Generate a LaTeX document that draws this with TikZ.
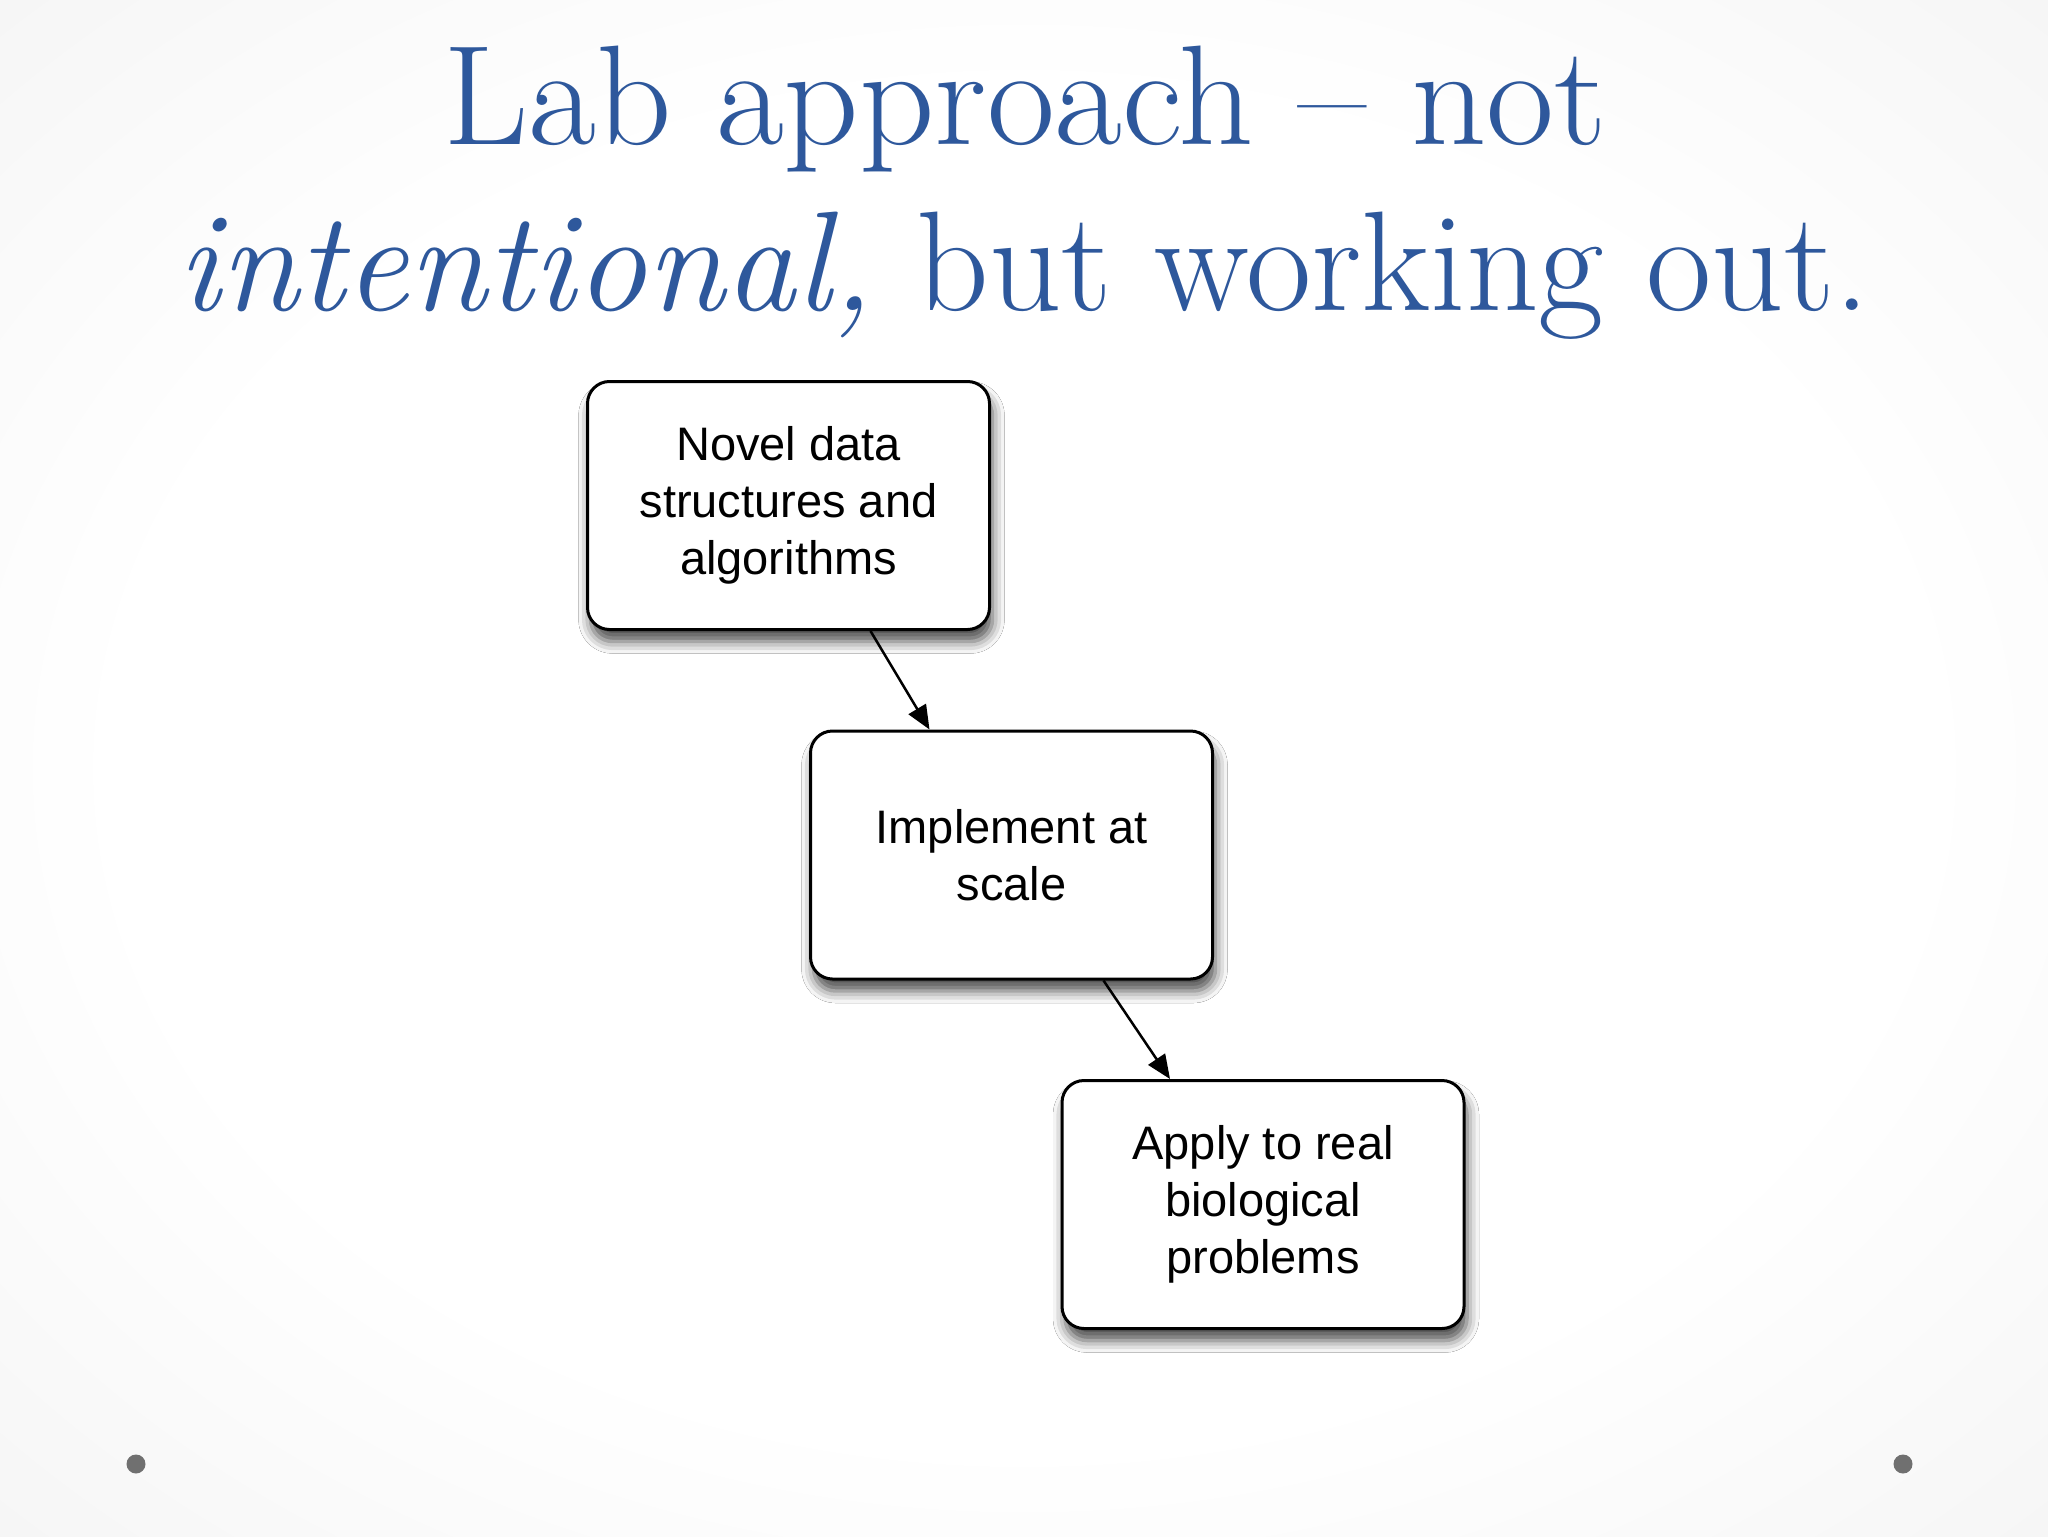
\documentclass[tikz,border=0pt]{standalone}
\usepackage{fontspec}
\newfontfamily\boxfont{Liberation Sans}
\usetikzlibrary{arrows.meta,shadows.blur}
\definecolor{titleblue}{RGB}{46,88,156}
\definecolor{bgedge}{RGB}{236,236,236}
\definecolor{bgcorner}{RGB}{222,222,222}
\definecolor{dotgray}{RGB}{112,112,112}
\pgfdeclareradialshading{bgshade}{\pgfpoint{0bp}{0bp}}{color(0bp)=(white); color(22bp)=(white); color(50bp)=(bgedge); color(72bp)=(bgcorner)}
\tikzset{
  titletext/.style={text=titleblue, font=\fontsize{71}{84}\selectfont, inner sep=0pt, anchor=base},
  flowbox/.style={draw=black, line width=1.5pt, rounded corners=11pt, fill=white,
    minimum width=201pt, minimum height=124pt, inner sep=0pt, align=center,
    font=\boxfont\fontsize{23.5}{28.5}\selectfont,
    blur shadow={shadow xshift=1.5pt, shadow yshift=-6pt, shadow blur radius=6pt, shadow opacity=70}},
  conn/.style={-{Triangle[length=12pt,width=10pt]}, line width=1.25pt},
  dot/.style={circle, fill=dotgray, minimum size=9.5pt, inner sep=0pt}
}
\begin{document}
\begin{tikzpicture}[x=0.5pt,y=-0.5pt]
\useasboundingbox (0,0) rectangle (2048,1536);
\shade[shading=bgshade] (0,0) rectangle (2048,1536);
% title
\node[titletext] (t1) at (1025,144) {\scalebox{1.04}[1]{Lab approach \textendash\ not}};
\node[titletext] (t2) at (1024,310) {\textit{intentional,} but working out.};
% boxes
\node[flowbox] (b1) at (788.5,505.5) {Novel data\\structures and\\algorithms};
\node[flowbox] (b2) at (1011.5,855) {Implement at\\scale};
\node[flowbox] (b3) at (1263,1204.5) {Apply to real\\biological\\problems};
% connectors
\draw[conn] ([xshift=41pt]b1.south) -- ([xshift=-41pt]b2.north);
\draw[conn] ([xshift=46pt]b2.south) -- ([xshift=-46.5pt]b3.north);
% dots
\node[dot] (d1) at (136,1464) {};
\node[dot] (d2) at (1903,1464) {};
\end{tikzpicture}
\end{document}
